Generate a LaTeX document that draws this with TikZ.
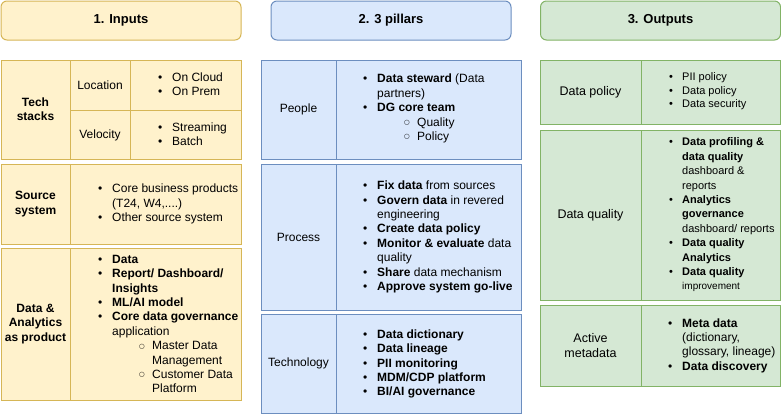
\documentclass[tikz,border=0pt]{standalone}
\usepackage{fontspec}
\setmainfont{Liberation Sans}
\newfontfamily\dejavu{DejaVu Sans}
\definecolor{yfill}{HTML}{FFF2CC}
\definecolor{ystroke}{HTML}{D6B656}
\definecolor{bfill}{HTML}{DAE8FC}
\definecolor{bstroke}{HTML}{6C8EBF}
\definecolor{gfill}{HTML}{D5E8D4}
\definecolor{gstroke}{HTML}{82B366}
\newcommand{\bul}{\makebox[14pt][l]{•}}
\newcommand{\sbul}{\hspace*{41pt}\makebox[13pt][l]{\raisebox{1.6pt}{\dejavu\fontsize{6.5}{7}\selectfont ○}}}
\newcommand{\ind}{\hspace*{14pt}}
\newcommand{\sind}{\hspace*{54pt}}
\begin{document}
\begin{tikzpicture}[x=1pt,y=-1pt,
  yb/.style={draw=ystroke,fill=yfill,line width=1pt},
  bb/.style={draw=bstroke,fill=bfill,line width=1pt},
  gb/.style={draw=gstroke,fill=gfill,line width=1pt},
  hdr/.style={font=\fontsize{13}{15}\selectfont\bfseries,inner sep=0pt,rounded corners=6pt,minimum width=240pt,minimum height=39pt},
  lbl/.style={font=\fontsize{12}{14.4}\selectfont,align=center,inner sep=0pt},
  lst/.style={font=\fontsize{12}{14.4}\selectfont,align=left,anchor=west,inner sep=0pt},
]
\useasboundingbox (0,0) rectangle (781,415);

% headers
\node[hdr,yb] (h1) at (121,20.5) {1. Inputs};
\node[hdr,bb] (h2) at (391,20.5) {2. 3 pillars};
\node[hdr,gb] (h3) at (660.5,20.5) {3. Outputs};

% ---- column 1
\draw[yb] (1,60) rectangle (241,159);
\draw[ystroke,line width=1pt] (70,60) -- (70,159) (130,60) -- (130,159) (70,110) -- (241,110);
\node[lbl,font=\fontsize{12}{14.4}\selectfont\bfseries] (ts) at (35.5,109.5) {Tech\\stacks};
\node[lbl] (loc) at (100,85) {Location};
\node[lbl] (vel) at (100,135) {Velocity};
\node[lst] (locl) at (158,84.5) {\bul On Cloud\\\bul On Prem};
\node[lst] (vell) at (158,134.5) {\bul Streaming\\\bul Batch};

\draw[yb] (1,164) rectangle (241,244);
\draw[ystroke,line width=1pt] (70,164) -- (70,244);
\node[lbl,font=\fontsize{12}{14.4}\selectfont\bfseries] (ss) at (35.5,204) {Source\\system};
\node[lst] (ssl) at (98,204) {\bul Core business products\\\ind (T24, W4,....)\\\bul Other source system};

\draw[yb] (1,248) rectangle (241,400);
\draw[ystroke,line width=1pt] (70,248) -- (70,400);
\node[lbl,font=\fontsize{12}{14.4}\selectfont\bfseries] (da) at (35.5,324) {Data \&\\Analytics\\as product};
\node[lst] (dal) at (98,324) {\bul\textbf{Data}\\\bul\textbf{Report/ Dashboard/}\\\ind\textbf{Insights}\\\bul\textbf{ML/AI model}\\\bul\textbf{Core data governance}\\\ind application\\\sbul Master Data\\\sind Management\\\sbul Customer Data\\\sind Platform};

% ---- column 2
\draw[bb] (261,60) rectangle (521,159);
\draw[bstroke,line width=1pt] (336,60) -- (336,159);
\node[lbl] (pe) at (298.5,109.5) {People};
\node[lst] (pel) at (363,108.5) {\bul\textbf{Data steward} (Data\\\ind partners)\\\bul\textbf{DG core team}\\\sbul Quality\\\sbul Policy};

\draw[bb] (261,164) rectangle (521,310);
\draw[bstroke,line width=1pt] (336,164) -- (336,310);
\node[lbl] (pr) at (298.5,237) {Process};
\node[lst] (prl) at (363,237) {\bul\textbf{Fix data} from sources\\\bul\textbf{Govern data} in revered\\\ind engineering\\\bul\textbf{Create data policy}\\\bul\textbf{Monitor \& evaluate} data\\\ind quality\\\bul\textbf{Share} data mechanism\\\bul\textbf{Approve system go-live}};

\draw[bb] (261,314) rectangle (521,413);
\draw[bstroke,line width=1pt] (336,314) -- (336,413);
\node[lbl] (te) at (298.5,363.5) {Technology};
\node[lst] (tel) at (363,364) {\bul\textbf{Data dictionary}\\\bul\textbf{Data lineage}\\\bul\textbf{PII monitoring}\\\bul\textbf{MDM/CDP platform}\\\bul\textbf{BI/AI governance}};

% ---- column 3
\draw[gb] (540,60) rectangle (780,124);
\draw[gstroke,line width=1pt] (641,60) -- (641,124);
\node[lbl,font=\fontsize{12.5}{15}\selectfont] (dp) at (590.5,92) {Data policy};
\node[lst,font=\fontsize{11}{13.5}\selectfont] (dpl) at (669,91.5) {\makebox[13pt][l]{•}PII policy\\\makebox[13pt][l]{•}Data policy\\\makebox[13pt][l]{•}Data security};

\draw[gb] (540,130) rectangle (780,300);
\draw[gstroke,line width=1pt] (641,130) -- (641,300);
\node[lbl,font=\fontsize{12.5}{15}\selectfont] (dq) at (590.5,215) {Data quality};
\node[lst,font=\fontsize{11}{14.4}\selectfont] (dql) at (669,215) {\makebox[13pt][l]{•}\textbf{Data profiling \&}\\\hspace*{13pt}\textbf{data quality}\\\hspace*{13pt}dashboard \&\\\hspace*{13pt}reports\\\makebox[13pt][l]{•}\textbf{Analytics}\\\hspace*{13pt}\textbf{governance}\\\hspace*{13pt}dashboard/ reports\\\makebox[13pt][l]{•}\textbf{Data quality}\\\hspace*{13pt}\textbf{Analytics}\\\makebox[13pt][l]{•}\textbf{Data quality}\\\hspace*{13pt}{\fontsize{10}{14.4}\selectfont improvement}};

\draw[gb] (540,305) rectangle (780,386);
\draw[gstroke,line width=1pt] (641,305) -- (641,386);
\node[lbl,font=\fontsize{12.5}{15}\selectfont] (am) at (590.5,345.5) {Active\\metadata};
\node[lst] (aml) at (668,345.5) {\bul\textbf{Meta data}\\\ind(dictionary,\\\ind glossary, lineage)\\\bul\textbf{Data discovery}};
\end{tikzpicture}
\end{document}
